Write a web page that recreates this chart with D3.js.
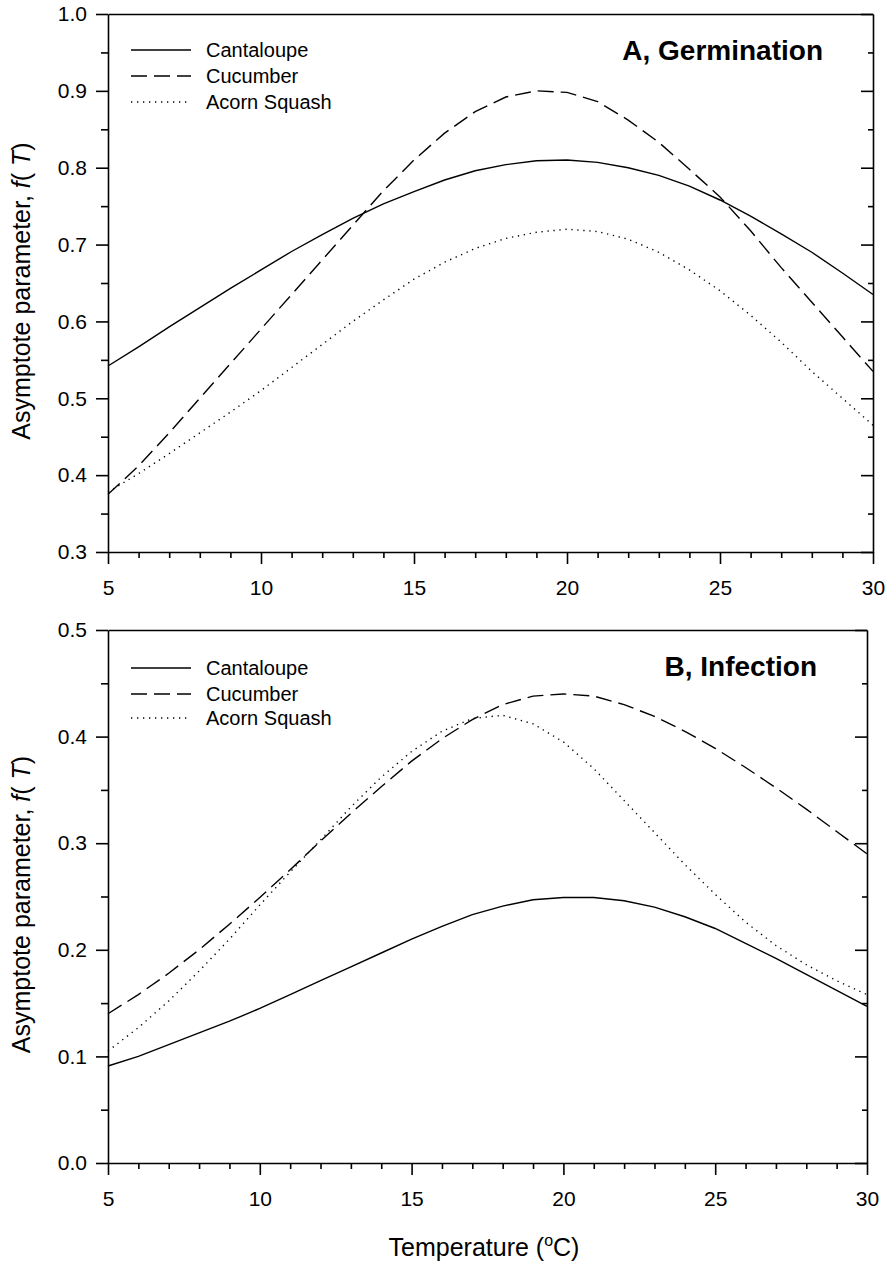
<!DOCTYPE html>
<html>
<head>
<meta charset="utf-8">
<script src="https://cdn.jsdelivr.net/npm/d3@7"></script>
<style>
  html, body { margin: 0; padding: 0; background: #fff; }
  svg { display: block; font-family: "Liberation Sans", Arial, sans-serif; }
</style>
</head>
<body>
<svg id="chart" width="887" height="1264"></svg>
<script>
// ---------- data ----------
const temperature = [5,6,7,8,9,10,11,12,13,14,15,16,17,18,19,20,21,22,23,24,25,26,27,28,29,30];
const seriesNames = ["Cantaloupe", "Cucumber", "Acorn Squash"];

// Panel A, Germination
const germCantaloupe = [0.542,0.567,0.593,0.618,0.643,0.667,0.691,0.713,0.734,0.753,0.769,0.784,0.796,0.804,0.809,0.810,0.807,0.800,0.790,0.776,0.758,0.737,0.714,0.690,0.663,0.635];
const germCucumber   = [0.375,0.412,0.455,0.500,0.545,0.590,0.635,0.680,0.725,0.770,0.810,0.845,0.873,0.892,0.900,0.898,0.886,0.862,0.833,0.798,0.762,0.718,0.670,0.625,0.580,0.535];
const germAcorn      = [0.378,0.402,0.428,0.455,0.482,0.510,0.540,0.570,0.600,0.628,0.655,0.677,0.695,0.708,0.716,0.720,0.717,0.707,0.690,0.667,0.640,0.608,0.573,0.535,0.500,0.465];

// Panel B, Infection
const infCantaloupe = [0.091,0.100,0.111,0.122,0.133,0.145,0.158,0.171,0.184,0.197,0.210,0.222,0.233,0.241,0.247,0.249,0.249,0.246,0.240,0.231,0.220,0.206,0.192,0.177,0.162,0.147];
const infCucumber   = [0.140,0.158,0.178,0.200,0.224,0.249,0.275,0.302,0.328,0.353,0.377,0.398,0.416,0.430,0.438,0.440,0.438,0.430,0.419,0.405,0.389,0.371,0.352,0.332,0.311,0.290];
const infAcorn      = [0.105,0.127,0.152,0.180,0.210,0.242,0.273,0.303,0.334,0.362,0.386,0.405,0.417,0.420,0.412,0.395,0.370,0.340,0.310,0.280,0.252,0.226,0.204,0.186,0.171,0.158];

const xMajorTicks = [5,10,15,20,25,30];
const germYTicks = [0.3,0.4,0.5,0.6,0.7,0.8,0.9,1.0];
const infYTicks = [0.0,0.1,0.2,0.3,0.4,0.5];

// ---------- styles ----------
const dashStyles = [null, "16,7", "1.3,4.7"];
const svg = d3.select("#chart");

function drawPanel(cfg) {
  const x = d3.scaleLinear().domain([5, 30]).range([cfg.left, cfg.right]);
  const y = d3.scaleLinear().domain(cfg.yDomain).range([cfg.bottom, cfg.top]);
  const g = svg.append("g");

  // minor y ticks (left outward, right inward)
  const yMinor = d3.range(cfg.yDomain[0], cfg.yDomain[1] + 1e-9, 0.05)
    .filter(v => Math.abs(Math.round(v * 10) - v * 10) > 1e-6);
  const xMinor = d3.range(5, 31, 1).filter(v => v % 5 !== 0);

  // left axis
  g.append("g").attr("transform", `translate(${cfg.left},0)`)
    .call(d3.axisLeft(y).tickValues(yMinor).tickSize(7).tickSizeOuter(0).tickFormat(""))
    .call(s => s.select(".domain").remove());
  g.append("g").attr("class", "ax").attr("transform", `translate(${cfg.left},0)`)
    .call(d3.axisLeft(y).tickValues(cfg.yTicks).tickSize(12).tickPadding(9).tickSizeOuter(0).tickFormat(d3.format(".1f")));

  // right axis (ticks inward)
  g.append("g").attr("transform", `translate(${cfg.right},0)`)
    .call(d3.axisRight(y).tickValues(yMinor).tickSize(-5).tickSizeOuter(0).tickFormat(""))
    .call(s => s.select(".domain").remove());
  g.append("g").attr("transform", `translate(${cfg.right},0)`)
    .call(d3.axisRight(y).tickValues(cfg.yTicks).tickSize(-12).tickSizeOuter(0).tickFormat(""));

  // bottom axis
  g.append("g").attr("transform", `translate(0,${cfg.bottom})`)
    .call(d3.axisBottom(x).tickValues(xMinor).tickSize(6).tickSizeOuter(0).tickFormat(""))
    .call(s => s.select(".domain").remove());
  g.append("g").attr("class", "ax").attr("transform", `translate(0,${cfg.bottom})`)
    .call(d3.axisBottom(x).tickValues(xMajorTicks).tickSize(12).tickPadding(16).tickSizeOuter(0).tickFormat(d3.format("d")));

  // top axis line
  g.append("g").attr("transform", `translate(0,${cfg.top})`)
    .call(d3.axisTop(x).tickValues([]).tickSizeOuter(0));

  g.selectAll(".domain, .tick line").attr("stroke", "#000").attr("stroke-width", 1.6);
  g.selectAll(".ax text").attr("font-size", 21).attr("fill", "#000")
    .attr("font-family", "'Liberation Sans', Arial, sans-serif");

  // curves
  const line = d3.line().x((d, i) => x(temperature[i])).y(d => y(d));
  cfg.series.forEach((vals, k) => {
    g.append("path").datum(vals)
      .attr("d", line)
      .attr("fill", "none")
      .attr("stroke", "#000")
      .attr("stroke-width", 1.4)
      .attr("stroke-dasharray", dashStyles[k]);
  });

  // legend
  seriesNames.forEach((name, k) => {
    const ly = cfg.top + cfg.legendOffsets[k];
    g.append("line")
      .attr("x1", cfg.left + 23).attr("x2", cfg.left + 83)
      .attr("y1", ly).attr("y2", ly)
      .attr("stroke", "#000").attr("stroke-width", 1.4)
      .attr("stroke-dasharray", dashStyles[k]);
    g.append("text")
      .attr("x", cfg.left + 98).attr("y", ly + 7)
      .attr("font-size", 20).attr("fill", "#000")
      .text(name);
  });

  // panel title
  g.append("text")
    .attr("x", cfg.right - 50).attr("y", cfg.top + 46)
    .attr("text-anchor", "end")
    .attr("font-size", 28).attr("font-weight", "bold")
    .text(cfg.title);

  // y axis label
  const yl = g.append("text")
    .attr("transform", `translate(30,${(cfg.top + cfg.bottom) / 2 + 8}) rotate(-90)`)
    .attr("text-anchor", "middle")
    .attr("font-size", 25).attr("fill", "#000");
  yl.append("tspan").text("Asymptote parameter, ");
  yl.append("tspan").attr("font-style", "italic").text("f");
  yl.append("tspan").text("( ");
  yl.append("tspan").attr("font-style", "italic").text("T");
  yl.append("tspan").text(")");
}

drawPanel({
  left: 108, right: 873, top: 14, bottom: 552,
  yDomain: [0.3, 1.0], yTicks: germYTicks,
  series: [germCantaloupe, germCucumber, germAcorn],
  legendOffsets: [36, 62, 88],
  title: "A, Germination"
});

drawPanel({
  left: 108, right: 867, top: 630, bottom: 1163,
  yDomain: [0.0, 0.5], yTicks: infYTicks,
  series: [infCantaloupe, infCucumber, infAcorn],
  legendOffsets: [38, 64, 88],
  title: "B, Infection"
});

// x axis title
const xt = svg.append("text")
  .attr("x", 484).attr("y", 1256)
  .attr("text-anchor", "middle")
  .attr("font-size", 25).attr("fill", "#000");
xt.append("tspan").text("Temperature (");
xt.append("tspan").attr("font-size", 16).attr("dy", -10).text("o");
xt.append("tspan").attr("dy", 10).text("C)");
</script>
</body>
</html>
